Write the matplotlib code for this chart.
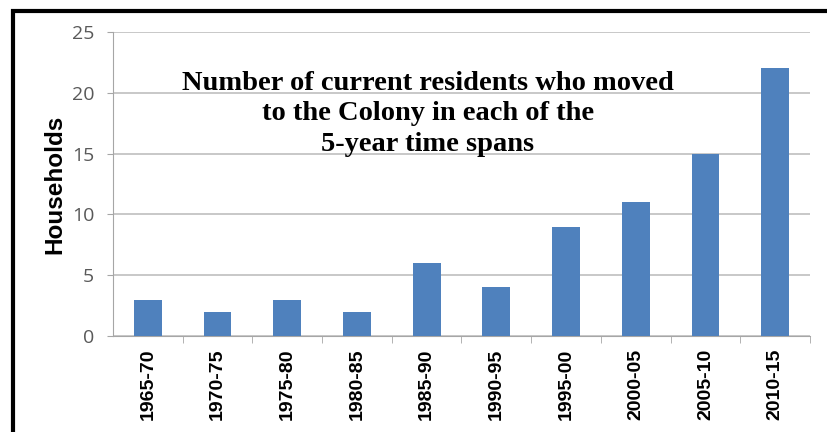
import matplotlib
matplotlib.use("Agg")
import matplotlib.pyplot as plt
from matplotlib.lines import Line2D

categories = ["1965-70", "1970-75", "1975-80", "1980-85", "1985-90",
              "1990-95", "1995-00", "2000-05", "2005-10", "2010-15"]
households = [3, 2, 3, 2, 6, 4, 9, 11, 15, 22]
yticks = [0, 5, 10, 15, 20, 25]
title = "Number of current residents who moved\nto the Colony in each of the\n5-year time spans"

W, H = 828, 432
fig = plt.figure(figsize=(W / 100, H / 100), dpi=100)
fig.patch.set_facecolor("white")

# outer black frame (left and top edges visible)
fig.lines.append(Line2D([13.5 / W, 13.5 / W, 1.01], [-0.01, 1 - 10.5 / H, 1 - 10.5 / H],
                        transform=fig.transFigure, color="black", linewidth=3,
                        solid_joinstyle="miter"))

ax = fig.add_axes([113 / W, 1 - 336 / H, (810 - 113) / W, (336 - 32) / H])
x = list(range(len(categories)))
ax.bar(x, households, width=0.4, color="#4F81BD", zorder=3)
ax.set_xlim(-0.5, len(categories) - 0.5)
ax.set_ylim(0, 25)
ax.set_yticks(yticks)
ax.set_yticklabels([str(t) for t in yticks], color="#595959",
                   fontsize=14, family="Open Sans")
ax.grid(axis="y", color="#BFBFBF", linewidth=1.2, zorder=0)
for s in ["top", "right"]:
    ax.spines[s].set_visible(False)
ax.spines["left"].set_color("#A6A6A6")
ax.spines["bottom"].set_color("#A6A6A6")
ax.tick_params(axis="y", length=4.5, color="#A6A6A6", pad=9)

ax.set_xticks([i + 0.5 for i in x], minor=True)
ax.set_xticks(x)
ax.set_xticklabels(categories, rotation=90, fontsize=14,
                   fontweight="bold", family="Liberation Sans")
ax.tick_params(axis="x", which="major", length=0, pad=9)
ax.tick_params(axis="x", which="minor", length=5, color="#A6A6A6")

ax.set_ylabel("Households", fontsize=17.5, fontweight="bold",
              family="Liberation Sans")
ax.yaxis.set_label_coords((66 - 113) / 697, 0.5)

fig.text(428 / W, 1 - 114 / H, title, ha="center", va="center",
         fontsize=20.5, fontweight="bold", family="Liberation Serif",
         linespacing=1.27)

fig.savefig("out.png", dpi=100)
